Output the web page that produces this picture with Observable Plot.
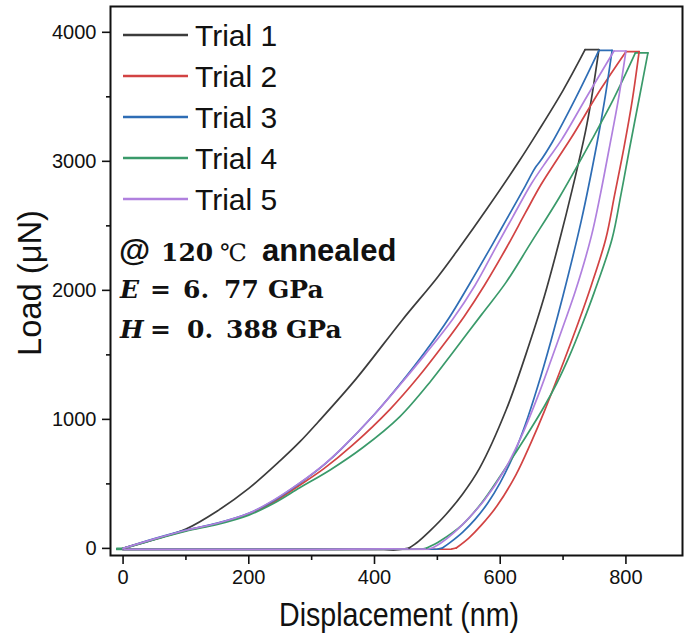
<!DOCTYPE html>
<html><head><meta charset="utf-8">
<script src="https://cdn.jsdelivr.net/npm/d3@7"></script>
<script src="https://cdn.jsdelivr.net/npm/@observablehq/plot@0.6"></script>
<style>body{margin:0;background:#fff;} #chart{width:684px;height:634px;}</style>
</head><body><div id="chart"></div>
<script>
// ---------- data ----------
const trialNames = ["Trial 1", "Trial 2", "Trial 3", "Trial 4", "Trial 5"];
const trialColors = ["#3c3c3c", "#d24343", "#2e6db5", "#3a9a6a", "#b080de"];
const xTicks = [0, 200, 400, 600, 800];
const xMinorTicks = [100, 300, 500, 700];
const yTicks = [0, 1000, 2000, 3000, 4000];
const yMinorTicks = [500, 1500, 2500, 3500];

// [displacement nm, load µN]
const trial1Loading = [[0,0],[50,70],[100,150],[150,290],[200,465],[250,680],[281,825],[310,978],[370,1310],[444,1769],[500,2100],[535,2330],[580,2640],[630,3000],[660,3230],[700,3550],[735,3865]];
const trial1Hold = [[735,3865],[757,3865]];
const trial1Unloading = [[757,3865],[745,3480],[736,3240],[715,2790],[694,2380],[670,1950],[646,1580],[610,1080],[567,620],[540,420],[514,265],[487,130],[470,55],[455,3]];
const trial1Retract = [[455,3],[448,-4],[430,-14],[410,-6],[300,-8],[0,-8]];

const trial2Loading = [[0,0],[50,72],[100,138],[150,192],[200,265],[240,360],[281,490],[320,620],[365,800],[425,1080],[470,1330],[510,1580],[543,1800],[575,2040],[611,2340],[640,2600],[665,2820],[690,3010],[714,3190],[760,3560],[800,3850]];
const trial2Hold = [[800,3850],[821,3850]];
const trial2Unloading = [[821,3850],[810,3470],[797,3110],[782,2740],[768,2400],[745,2040],[725,1760],[702,1460],[670,1060],[649,820],[625,570],[595,330],[570,180],[550,80],[530,3]];
const trial2Retract = [[530,3],[522,-6],[300,-8],[0,-8]];

const trial3Loading = [[0,0],[50,76],[100,142],[150,196],[200,272],[240,372],[281,505],[320,650],[347,770],[400,1040],[440,1270],[480,1520],[519,1790],[550,2040],[587,2351],[610,2550],[640,2810],[652,2920],[657,2960],[662,2990],[683,3150],[720,3490],[757,3860]];
const trial3Hold = [[757,3860],[778,3860]];
const trial3Unloading = [[778,3860],[766,3470],[754,3140],[729,2540],[700,1960],[681,1614],[660,1260],[640,960],[620,710],[600,510],[580,350],[560,225],[540,125],[520,45],[508,3]];
const trial3Retract = [[508,3],[500,-6],[300,-8],[0,-8]];

const trial4Loading = [[-10,0],[0,2],[50,68],[100,134],[150,186],[200,258],[240,350],[281,470],[330,610],[381,780],[440,1020],[490,1300],[524,1515],[570,1810],[609,2060],[649,2370],[694,2720],[746,3170],[780,3480],[815,3840]];
const trial4Hold = [[815,3840],[835,3840]];
const trial4Unloading = [[835,3840],[822,3510],[805,3080],[792,2740],[778,2400],[750,1990],[730,1730],[710,1490],[690,1280],[670,1100],[640,860],[602,575],[570,350],[540,185],[505,60],[483,3]];
const trial4Retract = [[483,3],[476,-6],[300,-8],[-10,-8]];

const trial5Loading = [[0,0],[50,74],[100,141],[150,195],[200,272],[240,376],[281,508],[320,652],[347,772],[400,1040],[440,1265],[480,1500],[525,1780],[560,2040],[595,2351],[620,2570],[650,2830],[675,3010],[698,3170],[740,3520],[781,3855]];
const trial5Hold = [[781,3855],[800,3855]];
const trial5Unloading = [[800,3855],[788,3480],[773,3090],[760,2760],[745,2420],[720,2000],[700,1720],[681,1460],[660,1180],[633,860],[606,600],[575,375],[550,235],[527,125],[505,40],[492,3]];
const trial5Retract = [[492,3],[485,-6],[420,-4],[300,-8],[0,-8]];

// ---------- build table ----------
const trialSegments = [
  [trial1Loading, trial1Hold, trial1Unloading, trial1Retract],
  [trial2Loading, trial2Hold, trial2Unloading, trial2Retract],
  [trial3Loading, trial3Hold, trial3Unloading, trial3Retract],
  [trial4Loading, trial4Hold, trial4Unloading, trial4Retract],
  [trial5Loading, trial5Hold, trial5Unloading, trial5Retract]
];
const curved = [], straight = [];
trialSegments.forEach((segs, i) => {
  segs.forEach((seg, j) => {
    const target = (j === 0 || j === 2) ? curved : straight;
    seg.forEach(([d, l]) => target.push({trial: trialNames[i], key: trialNames[i] + "-" + j, disp: d, load: l}));
  });
});

const sans = "'Liberation Sans',Arial,sans-serif";
const serif = "'DejaVu Serif',serif";

const chart = Plot.plot({
  width: 684,
  height: 634,
  marginLeft: 110,
  marginRight: 2,
  marginTop: 6,
  marginBottom: 79,
  style: {fontFamily: sans, color: "#111", background: "#fff"},
  x: {domain: [-20, 890]},
  y: {domain: [-55, 4200]},
  color: {domain: trialNames, range: trialColors},
  marks: [
    Plot.line(straight, {x: "disp", y: "load", z: "key", stroke: "trial", strokeWidth: 1.7}),
    Plot.line(curved, {x: "disp", y: "load", z: "key", stroke: "trial", curve: "catmull-rom", strokeWidth: 1.7}),
    Plot.frame({stroke: "#111", strokeWidth: 2}),
    Plot.axisX(xTicks, {tickSize: 9, tickPadding: 5, fontSize: 20, strokeWidth: 1.6, tickFormat: d => String(d), label: null}),
    Plot.axisX(xMinorTicks, {tickSize: 5, strokeWidth: 1.6, tickFormat: () => "", label: null}),
    Plot.axisY(yTicks, {tickSize: 8, tickPadding: 6, fontSize: 20, strokeWidth: 1.6, tickFormat: d => String(d), label: null}),
    Plot.axisY(yMinorTicks, {tickSize: 4, strokeWidth: 1.6, tickFormat: () => "", label: null})
  ]
});
document.getElementById("chart").appendChild(chart);

const svg = d3.select(chart);

// ---------- axis titles ----------
svg.append("text").attr("x", 399).attr("y", 614).attr("dy", "0.35em")
  .attr("text-anchor", "middle").attr("font-family", sans).attr("font-size", 33).attr("fill", "#111")
  .attr("textLength", 240).attr("lengthAdjust", "spacingAndGlyphs")
  .text("Displacement (nm)");
svg.append("text").attr("transform", "translate(29,283) rotate(-90)").attr("dy", "0.35em")
  .attr("text-anchor", "middle").attr("font-family", sans).attr("font-size", 33).attr("fill", "#111")
  .attr("textLength", 146).attr("lengthAdjust", "spacingAndGlyphs")
  .text("Load (μN)");

// ---------- legend ----------
const lg = svg.append("g").attr("class", "legend").attr("text-anchor", "start");
trialNames.forEach((name, i) => {
  const y = 35 + i * 41;
  lg.append("line").attr("x1", 123).attr("x2", 188).attr("y1", y).attr("y2", y)
    .attr("stroke", trialColors[i]).attr("stroke-width", 2.6);
  lg.append("text").attr("x", 195).attr("y", y + 10.5)
    .attr("font-family", sans).attr("font-size", 30).attr("fill", "#111")
    .text(name);
});

// ---------- annotation ----------
const ann = svg.append("g").attr("class", "annotation").attr("fill", "#111").attr("text-anchor", "start");
const l1 = ann.append("text").attr("y", 261);
l1.append("tspan").attr("x", 119).attr("font-family", sans).attr("font-weight", "bold").attr("font-size", 32).text("@");
l1.append("tspan").attr("x", 161).attr("font-family", serif).attr("font-weight", "bold").attr("font-size", 25).text("120");
l1.append("tspan").attr("x", 220).attr("font-family", serif).attr("font-size", 24).text("℃");
l1.append("tspan").attr("x", 262).attr("font-family", sans).attr("font-weight", "bold").attr("font-size", 31).text("annealed");

const l2 = ann.append("text").attr("y", 298).attr("font-family", serif).attr("font-weight", "bold").attr("font-size", 25);
l2.append("tspan").attr("x", 120).attr("font-style", "italic").text("E");
l2.append("tspan").attr("x", 150).text("=");
l2.append("tspan").attr("x", 183).text("6.");
l2.append("tspan").attr("x", 224).text("77");
l2.append("tspan").attr("x", 268).text("GPa");

const l3 = ann.append("text").attr("y", 338).attr("font-family", serif).attr("font-weight", "bold").attr("font-size", 25);
l3.append("tspan").attr("x", 120).attr("font-style", "italic").text("H");
l3.append("tspan").attr("x", 150).text("=");
l3.append("tspan").attr("x", 187).text("0.");
l3.append("tspan").attr("x", 226).text("388");
l3.append("tspan").attr("x", 286).text("GPa");
</script>
</body></html>
